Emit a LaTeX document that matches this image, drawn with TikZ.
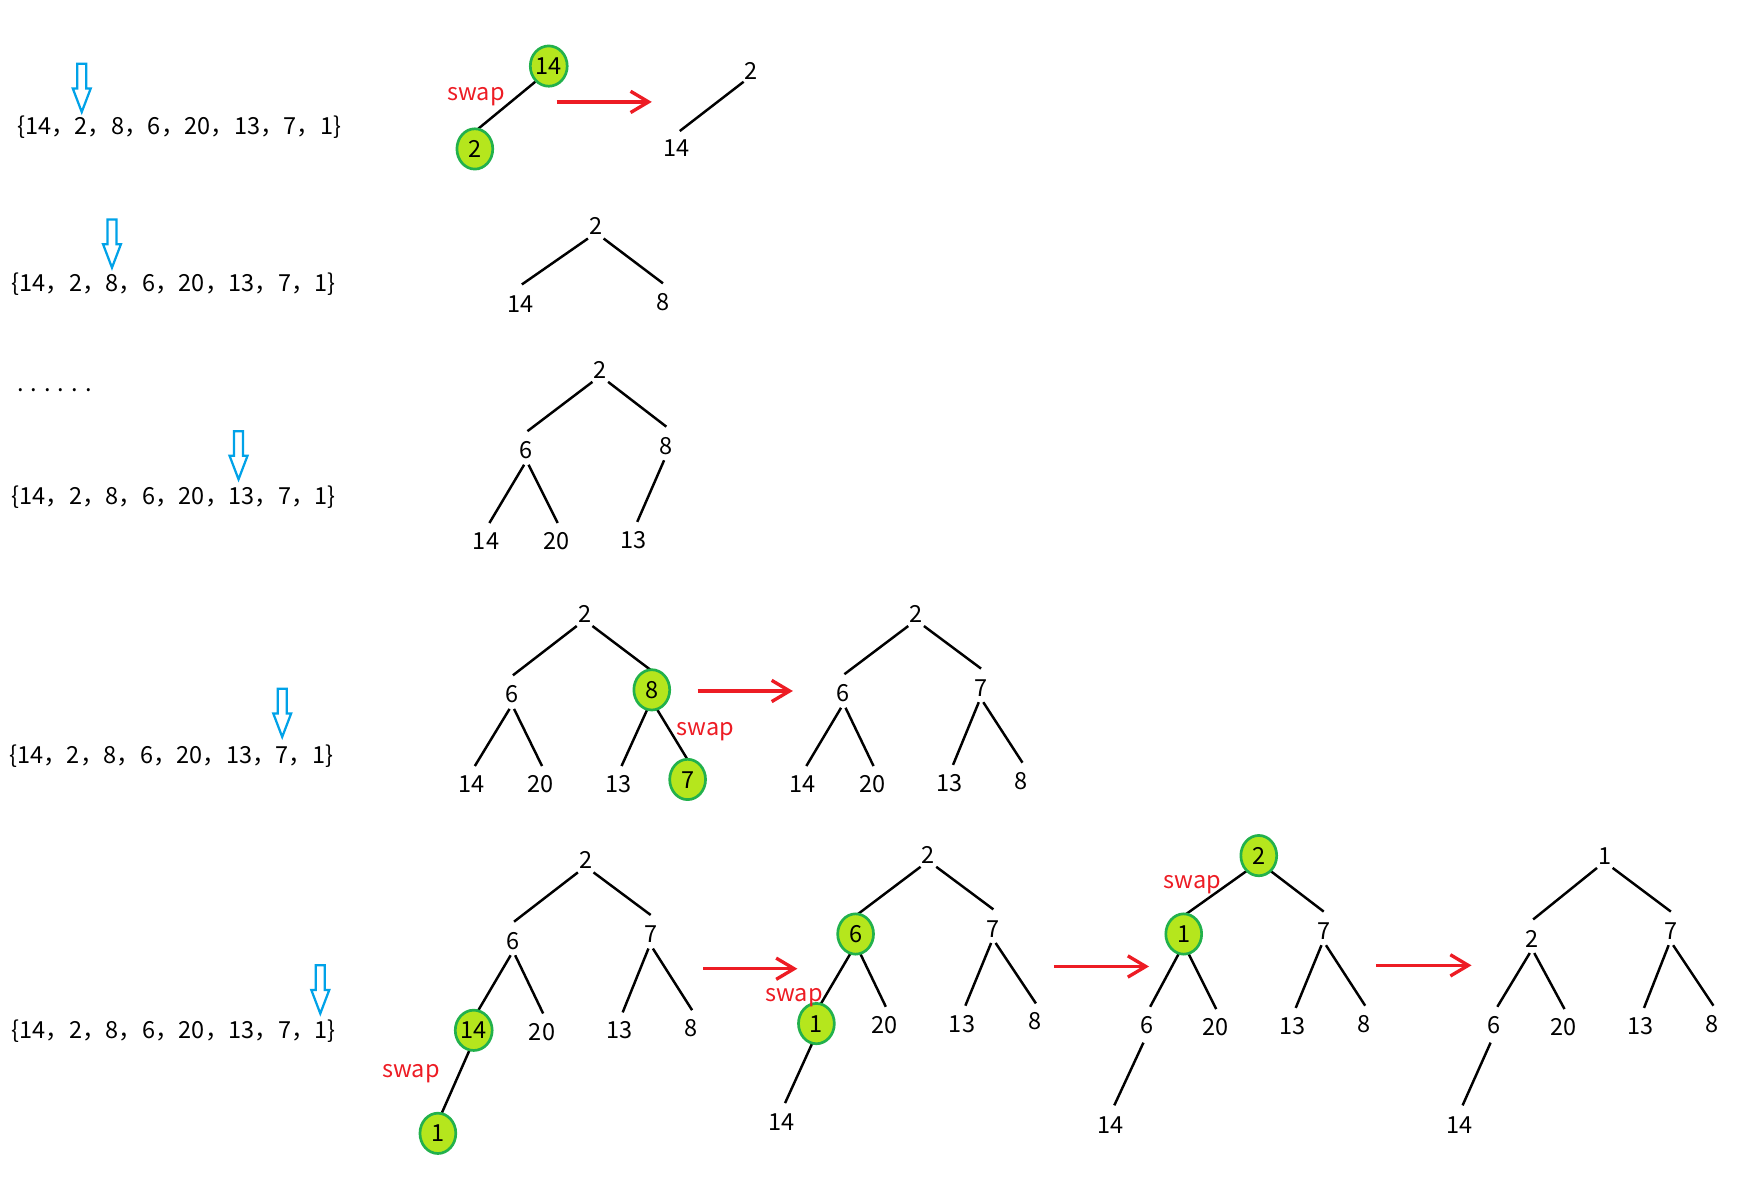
\documentclass[tikz,border=0pt]{standalone}
\usepackage{fontspec}
\setmainfont{Noto Sans CJK SC}
\usetikzlibrary{calc,arrows.meta,backgrounds,shapes.geometric}
\definecolor{hlfill}{HTML}{B5E61D}
\definecolor{hlborder}{HTML}{22B14C}
\definecolor{swapred}{HTML}{ED1C24}
\definecolor{arrowblue}{HTML}{00A2E8}
\begin{document}
\begin{tikzpicture}[x=0.5pt,y=-0.5pt,
  font=\fontsize{10.5}{12}\selectfont,
  num/.style={inner sep=0pt,text height=7.7pt,text depth=0pt},
  hl/.style={num,ellipse,draw=hlborder,fill=hlfill,line width=1.2pt,minimum width=16pt,minimum height=18pt},
  seq/.style={anchor=base west,inner sep=0pt},
  swaplbl/.style={text=swapred,inner sep=0pt,anchor=base},
  edge/.style={line width=1.1pt,black},
  redarr/.style={draw=swapred,line width=1.5pt,-{Straight Barb[length=8pt,width=9.5pt,line width=1.5pt]}},
  L1/.style={to path={($(\tikztostart)+(-7,11)$) -- ($(\tikztotarget)+(1,-17)$)}},
  R1/.style={to path={($(\tikztostart)+(7,11)$) -- ($(\tikztotarget)+(0,-17)$)}},
  L2/.style={to path={($(\tikztostart)+(-2,13)$) -- ($(\tikztotarget)+(3,-16)$)}},
  R2/.style={to path={($(\tikztostart)+(2,13)$) -- ($(\tikztotarget)+(1,-16)$)}},
  L3/.style={to path={($(\tikztostart)+(-3,16)$) -- ($(\tikztotarget)+(3,-17)$)}},
  downarr/.pic={\draw[draw=arrowblue,line width=1pt,line join=miter] (-4,0) -- (4,0) -- (4,22) -- (8,22) -- (0,43) -- (-8,22) -- (-4,22) -- cycle;}
]
\useasboundingbox (0,0) rectangle (1568,1065);

% ---------- sequences ----------
\node[seq] (s1) at (15,120.5) {\{14，2，8，6，20，13，7，1\}};
\node[seq] (s2) at (10,260.5) {\{14，2，8，6，20，13，7，1\}};
\node[seq] (dots) at (15,350) {. . . . . .};
\node[seq] (s3) at (10,450.5) {\{14，2，8，6，20，13，7，1\}};
\node[seq] (s4) at (8,681.5) {\{14，2，8，6，20，13，7，1\}};
\node[seq] (s5) at (10,927.5) {\{14，2，8，6，20，13，7，1\}};

\pic at (73,57) {downarr};
\pic at (100,196) {downarr};
\pic at (213,385) {downarr};
\pic at (252,615) {downarr};
\pic at (286,862) {downarr};

% ---------- row 1 ----------
\node[hl] (T1r) at (490,59) {14};
\node[hl] (T1a) at (424,133) {2};
\node[swaplbl] (sw1) at (425,90) {swap};
\node[num] (T2r) at (671,63) {2};
\node[num] (T2a) at (604,132) {14};
\coordinate (r1s) at (497,91);
\coordinate (r1e) at (582,91);

% ---------- row 2 ----------
\node[num] (T3r) at (532,202) {2};
\node[num] (T3a) at (465,271) {14};
\node[num] (T3b) at (592,270) {8};

% ---------- row 3 ----------
\node[num] (T4r) at (536,330) {2};
\node[num] (T4a) at (470,402) {6};
\node[num] (T4b) at (595,398) {8};
\node[num] (T4aa) at (434,483) {14};
\node[num] (T4ab) at (497,483) {20};
\node[num] (T4ba) at (566,482) {13};

% ---------- row 4 ----------
\node[num] (T5r) at (522,548) {2};
\node[num] (T5a) at (457,620) {6};
\node[hl] (T5b) at (582,616) {8};
\node[num] (T5aa) at (421,700) {14};
\node[num] (T5ab) at (483,700) {20};
\node[num] (T5ba) at (552,700) {13};
\node[hl] (T5bb) at (614,696) {7};
\node[swaplbl] (sw2) at (630,657) {swap};
\coordinate (r2s) at (623,617);
\coordinate (r2e) at (708,617);

\node[num] (T6r) at (818,548) {2};
\node[num] (T6a) at (753,619) {6};
\node[num] (T6b) at (876,614) {7};
\node[num] (T6aa) at (717,700) {14};
\node[num] (T6ab) at (779,700) {20};
\node[num] (T6ba) at (848,699) {13};
\node[num] (T6bb) at (912,697) {8};

% ---------- row 5 ----------
\node[num] (T7r) at (523,768) {2};
\node[num] (T7a) at (458,840) {6};
\node[num] (T7b) at (581,834) {7};
\node[hl] (T7aa) at (423,920) {14};
\node[num] (T7ab) at (484,921) {20};
\node[num] (T7ba) at (553,920) {13};
\node[num] (T7bb) at (617,918) {8};
\node[hl] (T7aaa) at (391,1012) {1};
\node[swaplbl] (sw3) at (367,962) {swap};
\coordinate (r3s) at (628,865);
\coordinate (r3e) at (712,865);

\node[num] (T8r) at (829,763) {2};
\node[hl] (T8a) at (764,834) {6};
\node[num] (T8b) at (887,829) {7};
\node[hl] (T8aa) at (729,914) {1};
\node[num] (T8ab) at (790,915) {20};
\node[num] (T8ba) at (859,914) {13};
\node[num] (T8bb) at (924,912) {8};
\node[num] (T8aaa) at (698,1002) {14};
\node[swaplbl] (sw4) at (709,894) {swap};
\coordinate (r4s) at (941,863);
\coordinate (r4e) at (1026,863);

\node[hl] (T9r) at (1124,764) {2};
\node[hl] (T9a) at (1057,834) {1};
\node[num] (T9b) at (1182,831) {7};
\node[num] (T9aa) at (1024,915) {6};
\node[num] (T9ab) at (1085,917) {20};
\node[num] (T9ba) at (1154,916) {13};
\node[num] (T9bb) at (1218,914) {8};
\node[num] (T9aaa) at (992,1004) {14};
\node[swaplbl] (sw5) at (1065,793) {swap};
\coordinate (r5s) at (1229,862);
\coordinate (r5e) at (1314,862);

\node[num] (T10r) at (1433,764) {1};
\node[num] (T10a) at (1368,838) {2};
\node[num] (T10b) at (1492,831) {7};
\node[num] (T10aa) at (1334,915) {6};
\node[num] (T10ab) at (1396,917) {20};
\node[num] (T10ba) at (1465,916) {13};
\node[num] (T10bb) at (1529,914) {8};
\node[num] (T10aaa) at (1303,1004) {14};

% ---------- red arrows ----------
\draw[redarr] (r1s) -- (r1e);
\draw[redarr] (r2s) -- (r2e);
\draw[redarr] (r3s) -- (r3e);
\draw[redarr] (r4s) -- (r4e);
\draw[redarr] (r5s) -- (r5e);

% ---------- edges ----------
\begin{scope}[on background layer]
\draw[edge] ($(T1r)+(-12,14)$) -- ($(T1a)+(3,-18)$);
\draw[edge] ($(T2r)+(-7,10)$) -- ($(T2a)+(3,-15)$);
\draw[edge] (T3r) to[L1] (T3a) (T3r) to[R1] (T3b);
\draw[edge] (T4r) to[L1] (T4a) (T4r) to[R1] (T4b)
  (T4a) to[L2] (T4aa) (T4a) to[R2] (T4ab) (T4b) to[L2] (T4ba);
\foreach \t in {T5,T6,T7,T8,T9,T10}{
  \draw[edge] (\t r) to[L1] (\t a) (\t r) to[R1] (\t b)
    (\t a) to[L2] (\t aa) (\t a) to[R2] (\t ab)
    (\t b) to[L2] (\t ba) (\t b) to[R2] (\t bb);
}
\foreach \t in {T7,T8,T9,T10}{
  \draw[edge] (\t aa) to[L3] (\t aaa);
}
\end{scope}
\end{tikzpicture}
\end{document}
